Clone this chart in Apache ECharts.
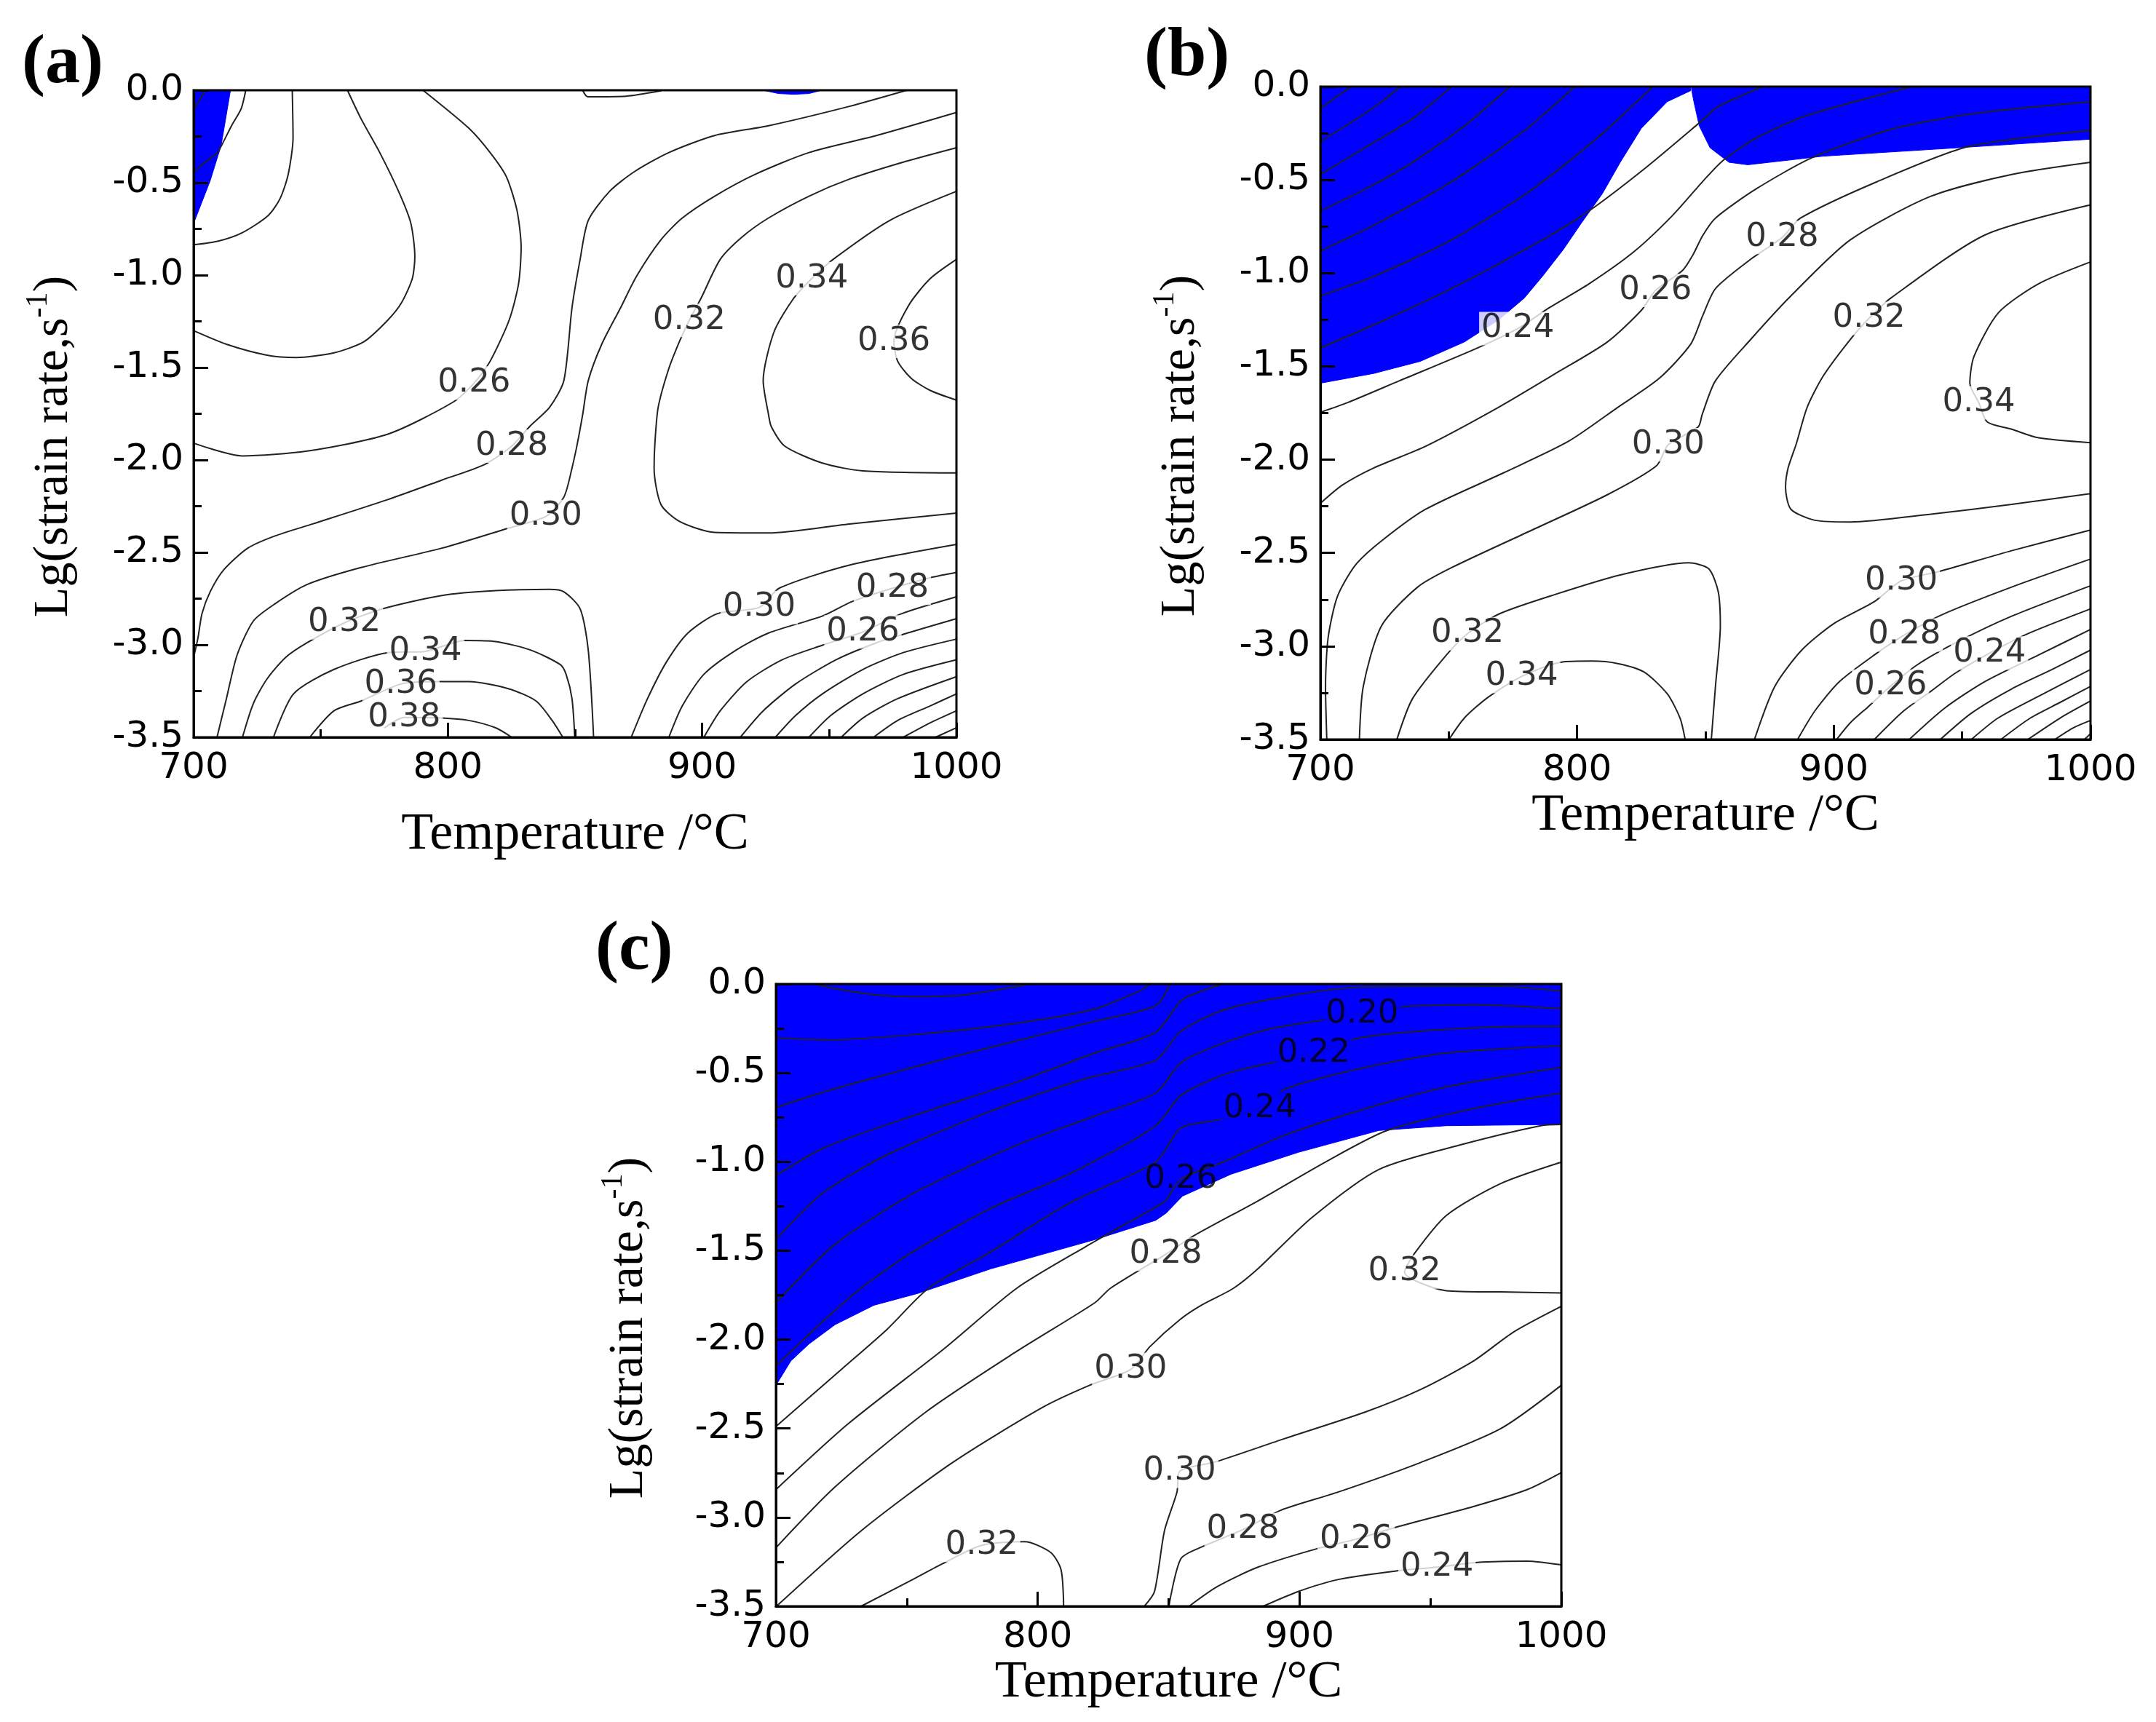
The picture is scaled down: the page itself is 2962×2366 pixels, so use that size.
<!DOCTYPE html>
<html>
<head>
<meta charset="utf-8">
<script src="https://cdn.jsdelivr.net/npm/echarts/dist/echarts.min.js"></script>
<style>
html,body{margin:0;padding:0;background:#fff}
#chart{width:2962px;height:2366px}
</style>
</head>
<body>
<div id="chart"></div>
<script>
// axis ranges / ticks
var tempRange = [700, 1000];
var rateRange = [-3.5, 0];
var tempInterval = 100;
var rateInterval = 0.5;

// ---------- panel (a) : contour lines [T, lg(rate)] ----------
var aLine01 = [[704.6,0],[702.5,-0.05],[700.2,-0.1]];
var aLine02 = [[720.5,0],[718.7,-0.10],[715,-0.19],[711.3,-0.29],[709.2,-0.34],[704.5,-0.39],[700.2,-0.44]];
var aLine03 = [[738.8,0],[739.1,-0.258],[737.2,-0.455],[734,-0.586],[729.3,-0.678],[719.2,-0.77],[709.7,-0.816],[700.2,-0.836]];
var aLine04 = [[760.5,0],[765.8,-0.153],[773.2,-0.337],[780.6,-0.547],[785.4,-0.718],[787,-0.901],[786,-1.019],[781.7,-1.151],[776.4,-1.243],[766.9,-1.361],[755.2,-1.42],[740.4,-1.446],[728.8,-1.433],[712.9,-1.374],[700.2,-1.302]];
var aLine26 = [[790.2,0],[808.2,-0.205],[816.6,-0.337],[823,-0.468],[827.2,-0.652],[828.8,-0.849],[827.8,-1.046],[824.1,-1.243],[816.6,-1.466],[810.3,-1.584],[801.8,-1.689],[776.4,-1.86],[744.6,-1.952],[719.2,-1.978],[700.2,-1.91]];
var aLine28 = [[980.5,0],[957.9,-0.087],[926.1,-0.192],[904.9,-0.245],[886.9,-0.337],[873.2,-0.442],[863.6,-0.547],[855.2,-0.704],[852,-0.915],[848.8,-1.177],[845.6,-1.571],[840,-1.715],[832.5,-1.814],[825.1,-1.925],[814.5,-2.024],[797.6,-2.109],[776.4,-2.214],[746.8,-2.346],[732,-2.411],[721.3,-2.477],[711.8,-2.595],[706.5,-2.713],[703.3,-2.831],[701.7,-2.963],[700.3,-3.05]];
var aLine30 = [[1000,-0.12],[968.5,-0.245],[942,-0.337],[920.8,-0.455],[904.9,-0.573],[892.2,-0.691],[883.8,-0.809],[874.2,-1.006],[867.9,-1.177],[860.5,-1.374],[855.2,-1.571],[853,-1.755],[850.9,-1.912],[848.8,-2.044],[845.6,-2.201],[838.5,-2.306],[823,-2.372],[797.6,-2.477],[765.8,-2.582],[744.6,-2.674],[731.9,-2.779],[723.5,-2.871],[717.1,-3.055],[712.9,-3.291],[709.2,-3.5]];
var aLine32 = [[1000,-0.311],[979.1,-0.389],[957.9,-0.481],[942,-0.573],[926.1,-0.691],[915.5,-0.796],[907.1,-0.915],[899.6,-1.124],[894.9,-1.245],[891.2,-1.355],[886.9,-1.505],[882.7,-1.715],[881.4,-1.912],[881.1,-2.044],[883.8,-2.241],[891.2,-2.333],[904.9,-2.392],[926.1,-2.395],[957.9,-2.346],[1000,-2.287]];
var aLine34 = [[1000,-0.547],[973.8,-0.704],[951.5,-0.915],[943.1,-1.019],[935.7,-1.131],[928.2,-1.309],[924,-1.571],[926.1,-1.755],[927.2,-1.82],[932.5,-1.925],[947.3,-2.017],[963.2,-2.059],[1000,-2.07]];
var aLine36 = [[1000,-0.915],[989.7,-1.019],[981.2,-1.164],[975.4,-1.358],[976.9,-1.466],[982.2,-1.558],[989.7,-1.624],[1000,-1.676]];
var aLow32 = [[719.2,-3.5],[723.5,-3.317],[728.8,-3.186],[736.2,-3.068],[744.6,-2.989],[759.3,-2.881],[774.3,-2.805],[797.6,-2.733],[818.8,-2.707],[839.9,-2.7],[845.6,-2.713],[852,-2.805],[855.2,-3.028],[857.3,-3.5]];
var aLow34 = [[731.4,-3.5],[739.3,-3.265],[755.2,-3.133],[776.4,-3.042],[791.2,-3.035],[806.6,-2.976],[818.8,-2.982],[832.5,-3.028],[844.2,-3.107],[846.5,-3.16],[848.8,-3.291],[849.9,-3.5]];
var aLow36 = [[745.7,-3.5],[755.2,-3.357],[765.8,-3.304],[781.5,-3.212],[796.5,-3.199],[808.2,-3.199],[824,-3.238],[834.7,-3.304],[841,-3.409],[845.2,-3.5]];
var aLow38 = [[775,-3.45],[782.8,-3.393],[797.6,-3.396],[808.2,-3.409],[818.8,-3.449],[825.1,-3.5]];
var aRight30 = [[872.1,-3.5],[878.5,-3.291],[885.9,-3.094],[894.4,-2.936],[906,-2.831],[922.4,-2.798],[930.4,-2.693],[957.9,-2.569],[1000,-2.457]];
var aRight28 = [[886.9,-3.5],[892.2,-3.33],[900.7,-3.159],[913.4,-3.028],[926.1,-2.936],[947.3,-2.844],[958.9,-2.766],[974.8,-2.694],[990.2,-2.635],[1000,-2.608]];
var aRight26 = [[900.7,-3.5],[907.1,-3.357],[917.6,-3.199],[931.4,-3.081],[947.3,-3.002],[963.2,-2.93],[978.5,-2.831],[1000,-2.74]];
var aRight24 = [[915,-3.5],[924,-3.357],[936.7,-3.212],[952.6,-3.081],[968.5,-2.989],[979.1,-2.943],[1000,-2.858]];
var aRight22 = [[928.8,-3.5],[936.7,-3.383],[947.3,-3.265],[963.2,-3.133],[979.1,-3.042],[1000,-2.969]];
var aRight20 = [[942,-3.5],[950.5,-3.383],[963.2,-3.265],[979.1,-3.16],[1000,-3.081]];
var aRight18 = [[954.7,-3.5],[963.2,-3.396],[976.9,-3.291],[1000,-3.172]];
var aRight16 = [[967.4,-3.5],[976.9,-3.409],[989.7,-3.33],[1000,-3.265]];
var aRight14 = [[979.1,-3.5],[989.7,-3.422],[1000,-3.357]];
var aRight12 = [[991.8,-3.5],[1000,-3.448]];
var aTop = [[853,0],[855,-0.035],[870,-0.032],[884,-0.002]];
var aBlue = [[700,0],[714.5,0],[712.9,-0.13],[710.8,-0.30],[706.5,-0.49],[700,-0.72]];
var aSpot = [[924,0],[930,-0.018],[936,-0.022],[942,-0.018],[947,0]];
var aLabels = [[810.3,-1.584,'0.26'],[825.1,-1.925,'0.28'],[838.5,-2.306,'0.30'],[894.9,-1.245,'0.32'],[943.1,-1.019,'0.34'],[975.4,-1.358,'0.36'],[759.3,-2.881,'0.32'],[791.2,-3.035,'0.34'],[781.5,-3.212,'0.36'],[782.8,-3.393,'0.38'],[922.4,-2.798,'0.30'],[974.8,-2.694,'0.28'],[963.2,-2.93,'0.26']];

// ---------- panel (b) ----------
var bLine10 = [[712.1,0],[705.5,-0.061],[700,-0.12]];
var bLine12 = [[731.3,0],[723.8,-0.081],[715.7,-0.159],[700,-0.295]];
var bLine14 = [[751.1,0],[735.9,-0.172],[715.7,-0.341],[700,-0.471]];
var bLine16 = [[773.8,0],[756.1,-0.211],[732.9,-0.432],[715.7,-0.562],[700,-0.666]];
var bLine18 = [[799.1,0],[779.4,-0.237],[751.1,-0.51],[720.7,-0.744],[700,-0.881]];
var bLine20 = [[829.5,0],[806.7,-0.289],[781.4,-0.562],[751.1,-0.822],[720.7,-1.018],[700,-1.122]];
var bLine22 = [[700,-1.401],[720.7,-1.278],[751.1,-1.082],[786.5,-0.822],[804.7,-0.666],[827,-0.432],[849,-0.178],[855,-0.107],[872.3,0]];
var bLine24 = [[700,-1.746],[710.6,-1.694],[730.8,-1.577],[761.2,-1.401],[776.9,-1.297],[789,-1.187],[804.7,-1.057],[821.9,-0.888],[837.1,-0.692],[849.7,-0.497],[857.1,-0.393],[869.7,-0.276],[887.5,-0.165],[906.4,-0.087],[930.5,0]];
var bLine26 = [[700,-2.234],[708.6,-2.136],[720.7,-2.045],[741,-1.928],[769.3,-1.72],[791.6,-1.538],[811.8,-1.369],[825,-1.2],[830.5,-1.093],[841.1,-0.985],[845.2,-0.9],[849,-0.797],[853.9,-0.705],[869.7,-0.549],[891.7,-0.38],[922.1,-0.23],[953.6,-0.146],[1000,-0.081]];
var bLine28 = [[702.5,-3.5],[702,-3.216],[703,-2.956],[706.6,-2.735],[713.6,-2.566],[723.8,-2.436],[741,-2.266],[771.3,-2.071],[796.6,-1.902],[815.8,-1.72],[832,-1.564],[844.2,-1.382],[849,-1.226],[853.9,-1.083],[867.6,-0.926],[879.9,-0.809],[887,-0.705],[916.8,-0.51],[952.5,-0.321],[1000,-0.234]];
var bLine30 = [[715.2,-3.5],[716.7,-3.216],[723.8,-2.891],[737.9,-2.683],[751.1,-2.579],[781.4,-2.384],[811.8,-2.188],[831,-2.032],[835.5,-1.92],[847.2,-1.824],[848.7,-1.759],[853.9,-1.577],[867.6,-1.356],[883.3,-1.122],[906.4,-0.822],[937.8,-0.588],[969.3,-0.471],[1000,-0.406]];
var bLine32 = [[1000,-0.634],[958.8,-0.796],[922.1,-1.135],[913.7,-1.243],[906.4,-1.356],[895.9,-1.551],[889.6,-1.72],[885.4,-1.915],[882.2,-2.045],[881.2,-2.149],[883.3,-2.266],[892.7,-2.325],[906.4,-2.334],[937.8,-2.292],[969.3,-2.24],[1000,-2.182]];
var bLine34 = [[1000,-0.94],[979.8,-1.057],[964.1,-1.213],[954.6,-1.447],[953,-1.59],[956.5,-1.695],[959.8,-1.798],[969.3,-1.837],[979.8,-1.883],[1000,-1.909]];
var bLow32 = [[729.8,-3.5],[735.9,-3.281],[749.1,-3.047],[757.3,-2.933],[769.8,-2.826],[791.6,-2.722],[816.8,-2.618],[843.4,-2.553],[851.3,-2.585],[855,-2.709],[855.8,-2.891],[853.9,-3.216],[852.3,-3.5]];
var bLow34 = [[750.1,-3.5],[756.1,-3.385],[765.2,-3.275],[778.4,-3.162],[793.6,-3.086],[805.7,-3.08],[815.8,-3.093],[826,-3.138],[835.1,-3.255],[840.1,-3.385],[842.1,-3.5]];
var bRight30 = [[869.1,-3.5],[877,-3.216],[887.5,-3.021],[900.1,-2.878],[915.8,-2.761],[926.3,-2.65],[941.5,-2.598],[969.3,-2.488],[1000,-2.377]];
var bRight28 = [[885.9,-3.5],[892.7,-3.346],[902.2,-3.19],[915.8,-3.047],[927.5,-2.94],[942,-2.832],[969.3,-2.683],[1000,-2.533]];
var bRight26 = [[901.1,-3.5],[906.4,-3.411],[913.2,-3.327],[922.1,-3.214],[932.6,-3.099],[948.3,-2.976],[969.3,-2.839],[1000,-2.676]];
var bRight24 = [[915.8,-3.5],[927.3,-3.346],[937.8,-3.242],[947.3,-3.145],[960.7,-3.037],[976.1,-2.93],[1000,-2.8]];
var bRight22 = [[929.4,-3.5],[943.1,-3.333],[958.8,-3.19],[979.8,-3.047],[1000,-2.91]];
var bRight20 = [[941.5,-3.5],[953.6,-3.359],[969.3,-3.229],[985,-3.125],[1000,-3.021]];
var bRight18 = [[953.6,-3.5],[964,-3.385],[979.8,-3.268],[1000,-3.125]];
var bRight16 = [[965.1,-3.5],[976.6,-3.385],[988.2,-3.301],[1000,-3.216]];
var bRight14 = [[975.6,-3.5],[988.2,-3.385],[1000,-3.294]];
var bRight12 = [[986.1,-3.5],[993.4,-3.437],[1000,-3.398]];
var bRight10 = [[997.6,-3.5],[1000,-3.47]];
var bBlueLeft = [[700,0],[844.3,0],[844.2,-0.022],[835.1,-0.081],[825,-0.224],[816.8,-0.406],[809.8,-0.575],[801.7,-0.731],[794.6,-0.874],[786.5,-1.017],[779.4,-1.134],[769.3,-1.252],[756.1,-1.369],[738.9,-1.473],[720.7,-1.538],[700,-1.59]];
var bBlueRight = [[844.6,0],[1000,0],[1000,-0.282],[948.3,-0.328],[895.9,-0.373],[874.9,-0.406],[866.5,-0.419],[859.2,-0.406],[851.8,-0.328],[847.6,-0.211],[845.5,-0.081],[844.6,-0.016]];
var bLabels = [[776.9,-1.297,'0.24'],[830.5,-1.093,'0.26'],[879.9,-0.809,'0.28'],[913.7,-1.243,'0.32'],[956.5,-1.695,'0.34'],[835.5,-1.92,'0.30'],[757.3,-2.933,'0.32'],[778.4,-3.162,'0.34'],[926.3,-2.65,'0.30'],[927.5,-2.94,'0.28'],[922.1,-3.214,'0.26'],[960.7,-3.037,'0.24']];

// ---------- panel (c) ----------
var cLine10 = [[714.6,0],[722.5,-0.026],[737.4,-0.06],[752.3,-0.071],[772.2,-0.06],[797,0]];
var cLine12 = [[700,-0.303],[719.6,-0.314],[752.3,-0.285],[792,-0.22],[821.8,-0.14],[839.7,-0.033],[842.7,0]];
var cLine14 = [[700,-0.695],[718.6,-0.606],[752.3,-0.469],[792,-0.319],[821.8,-0.21],[845.1,-0.121],[850.6,0]];
var cLine16 = [[700,-1.077],[718.6,-0.92],[752.3,-0.742],[792,-0.551],[821.8,-0.388],[845.1,-0.272],[855.3,-0.087],[870.7,0]];
var cLine18 = [[700,-1.438],[717.6,-1.179],[742.4,-0.961],[782.1,-0.715],[816.8,-0.538],[845.1,-0.428],[854.7,-0.265],[871.7,-0.142],[904.6,-0.046],[925.2,-0.016],[976.6,-0.012],[1000,-0.04]];
var cLine20 = [[700,-1.793],[722.5,-1.465],[752.3,-1.179],[792,-0.906],[821.8,-0.742],[845.1,-0.613],[854.7,-0.442],[870.7,-0.333],[889.2,-0.251],[923.9,-0.169],[939.6,-0.128],[966.4,-0.117],[1000,-0.138]];
var cLine22 = [[700,-2.148],[718.6,-1.888],[732.5,-1.711],[752.3,-1.506],[782.1,-1.261],[811.9,-1.07],[845.1,-0.797],[854.7,-0.626],[873.8,-0.497],[905.4,-0.392],[922.1,-0.306],[945.8,-0.265],[976.6,-0.24],[1000,-0.237]];
var cLine24 = [[700,-2.489],[725.5,-2.161],[742.4,-1.943],[758.3,-1.711],[782.1,-1.506],[811.9,-1.234],[845.1,-1.001],[854.7,-0.81],[869.7,-0.763],[884.8,-0.701],[894.3,-0.592],[925.2,-0.469],[956.1,-0.388],[1000,-0.347]];
var cLine26 = [[700,-2.844],[727.5,-2.475],[764.2,-2.052],[792,-1.711],[818,-1.48],[845.1,-1.254],[849.1,-1.213],[854.7,-1.097],[870.7,-1.002],[894.3,-0.851],[925.2,-0.701],[956.1,-0.579],[1000,-0.469]];
var cLine28 = [[700,-3.171],[722.5,-2.83],[757.3,-2.407],[792,-2.066],[821.8,-1.793],[827.8,-1.711],[848.9,-1.52],[859.4,-1.418],[884.1,-1.22],[909.8,-1.002],[933.4,-0.824],[966.4,-0.701],[1000,-0.613]];
var cLine30 = [[700.2,-3.5],[732.5,-3.076],[767.2,-2.694],[802,-2.38],[819.8,-2.257],[835.5,-2.168],[842.9,-2.039],[854.2,-1.889],[862.5,-1.807],[874.8,-1.711],[884.1,-1.602],[904.6,-1.315],[930.3,-1.043],[961.2,-0.906],[992.1,-0.797],[1000,-0.79]];
var cLine32 = [[1000,-1.002],[976.6,-1.124],[956.1,-1.302],[943.7,-1.52],[940.1,-1.62],[956.1,-1.725],[976.6,-1.732],[1000,-1.738]];
var cLow30 = [[840.7,-3.5],[844.6,-3.417],[848.4,-3.076],[853.2,-2.857],[854.2,-2.741],[868.1,-2.687],[894.3,-2.557],[925.2,-2.407],[945.8,-2.284],[966.4,-2.121],[981.8,-1.957],[1000,-1.813]];
var cLow28 = [[850.1,-3.5],[854.7,-3.232],[863,-3.164],[878.4,-3.069],[892.8,-2.96],[914.9,-2.857],[945.8,-2.694],[976.6,-2.503],[1000,-2.257]];
var cLow26 = [[857.8,-3.5],[868.6,-3.389],[884.1,-3.28],[906.2,-3.178],[921.6,-3.123],[937,-3.055],[966.4,-2.939],[986.9,-2.844],[1000,-2.748]];
var cLow24 = [[886.1,-3.5],[899.5,-3.417],[914.9,-3.349],[937,-3.301],[952.5,-3.28],[967.9,-3.253],[986.9,-3.246],[1000,-3.267]];
var cLow32 = [[732.5,-3.5],[752.3,-3.349],[763.7,-3.26],[778.6,-3.157],[795,-3.137],[805,-3.198],[808.9,-3.294],[809.9,-3.5]];
var cBlue = [[700,0],[1000,0],[1000,-0.79],[956.1,-0.797],[930.3,-0.824],[899.5,-0.947],[873.8,-1.07],[855.3,-1.193],[849.1,-1.288],[845.1,-1.329],[821.8,-1.438],[782.1,-1.602],[754.3,-1.74],[737.4,-1.807],[722.6,-1.916],[712.6,-2.025],[705.7,-2.12],[700,-2.257]];
var cLabels = [[848.9,-1.52,'0.28'],[940.1,-1.62,'0.32'],[835.5,-2.168,'0.30'],[778.6,-3.157,'0.32'],[854.2,-2.741,'0.30'],[878.4,-3.069,'0.28'],[921.6,-3.123,'0.26'],[952.5,-3.28,'0.24']];
var cLabelsBlue = [[923.9,-0.169,'0.20'],[905.4,-0.392,'0.22'],[884.8,-0.701,'0.24']];
var cLabelsEdge = [[854.7,-1.097,'0.26']];

var panels = [
    {grid:{left:266, top:124, width:1048, height:889}, nameGapX:98, nameGapY:150,
     lines:[aLine01,aLine02,aLine03,aLine04,aLine26,aLine28,aLine30,aLine32,aLine34,aLine36,aLow32,aLow34,aLow36,aLow38,aRight30,aRight28,aRight26,aRight24,aRight22,aRight20,aRight18,aRight16,aRight14,aRight12,aTop],
     blues:[aBlue,aSpot], labels:aLabels, labelsBlue:[], labelsEdge:[]},
    {grid:{left:1814, top:119, width:1058, height:897}, nameGapX:68, nameGapY:150,
     lines:[bLine10,bLine12,bLine14,bLine16,bLine18,bLine20,bLine22,bLine24,bLine26,bLine28,bLine30,bLine32,bLine34,bLow32,bLow34,bRight30,bRight28,bRight26,bRight24,bRight22,bRight20,bRight18,bRight16,bRight14,bRight12,bRight10],
     blues:[bBlueLeft,bBlueRight], labels:bLabels, labelsBlue:[], labelsEdge:[]},
    {grid:{left:1066, top:1352, width:1079, height:855}, nameGapX:68, nameGapY:160,
     lines:[cLine10,cLine12,cLine14,cLine16,cLine18,cLine20,cLine22,cLine24,cLine26,cLine28,cLine30,cLine32,cLow30,cLow28,cLow26,cLow24,cLow32],
     blues:[cBlue], labels:cLabels, labelsBlue:cLabelsBlue, labelsEdge:cLabelsEdge}
];

var tickFont = 'DejaVu Sans';
var serif = 'Liberation Serif';

var option = {
    backgroundColor:'#fff',
    animation:false,
    title:[
        {text:'(a)', left:30, top:40, padding:0, textStyle:{fontFamily:serif, fontWeight:'bold', fontSize:96, color:'#000'}},
        {text:'(b)', left:1572, top:30, padding:0, textStyle:{fontFamily:serif, fontWeight:'bold', fontSize:96, color:'#000'}},
        {text:'(c)', left:818, top:1258, padding:0, textStyle:{fontFamily:serif, fontWeight:'bold', fontSize:96, color:'#000'}}
    ],
    grid:[], xAxis:[], yAxis:[], series:[]
};

function polygonSeries(idx, poly){
    return {
        type:'custom', xAxisIndex:idx, yAxisIndex:idx, data:poly, silent:true, z:1,
        renderItem:function(params, api){
            if(params.dataIndex !== 0) return null;
            var pts = poly.map(function(p){ return api.coord(p); });
            return {type:'polygon', shape:{points:pts}, style:{fill:'#0000ff', stroke:'#0000ff', lineWidth:1}};
        }
    };
}

function labelSeries(idx, list, bg){
    return {
        type:'scatter', xAxisIndex:idx, yAxisIndex:idx, symbolSize:0, silent:true, z:6,
        data:list.map(function(l){ return {value:[l[0], l[1]], name:l[2]}; }),
        label:{show:true, position:'inside', formatter:'{b}', fontFamily:tickFont, fontSize:45,
               color:'#000', backgroundColor:bg, padding:[0,3], lineHeight:46}
    };
}

panels.forEach(function(p, i){
    option.grid.push({left:p.grid.left, top:p.grid.top, width:p.grid.width, height:p.grid.height,
        show:true, borderColor:'#000', borderWidth:3, backgroundColor:'transparent', z:8,
        containLabel:false, outerBoundsMode:'none'});
    option.xAxis.push({
        type:'value', gridIndex:i, min:tempRange[0], max:tempRange[1], interval:tempInterval, z:9,
        name:'Temperature /°C', nameLocation:'middle', nameGap:p.nameGapX,
        nameTextStyle:{fontFamily:serif, fontSize:72, color:'#000'},
        axisLine:{show:true, onZero:false, lineStyle:{color:'#000', width:3}},
        axisTick:{show:true, inside:true, length:20, lineStyle:{color:'#000', width:3}},
        minorTick:{show:true, splitNumber:2, length:11, lineStyle:{color:'#000', width:3}},
        splitLine:{show:false},
        axisLabel:{fontFamily:tickFont, fontSize:50, color:'#000', margin:18,
            formatter:function(v){ return String(v); }}
    });
    option.yAxis.push({
        type:'value', gridIndex:i, min:rateRange[0], max:rateRange[1], interval:rateInterval, z:9,
        name:'Lg(strain rate,s{sup|-1})', nameLocation:'middle', nameRotate:90, nameGap:p.nameGapY,
        nameTextStyle:{fontFamily:serif, fontSize:68, color:'#000', lineHeight:84, padding:[0,90,0,0],
            rich:{sup:{fontFamily:serif, fontSize:42, color:'#000', verticalAlign:'top', lineHeight:84}}},
        axisLine:{show:true, onZero:false, lineStyle:{color:'#000', width:3}},
        axisTick:{show:true, inside:true, length:20, lineStyle:{color:'#000', width:3}},
        minorTick:{show:true, splitNumber:2, length:11, lineStyle:{color:'#000', width:3}},
        splitLine:{show:false},
        axisLabel:{fontFamily:tickFont, fontSize:50, color:'#000', margin:14,
            formatter:function(v){ return v.toFixed(1); }}
    });
    p.blues.forEach(function(poly){ option.series.push(polygonSeries(i, poly)); });
    p.lines.forEach(function(line){
        option.series.push({
            type:'line', xAxisIndex:i, yAxisIndex:i, data:line, symbol:'none', showSymbol:false,
            smooth:0.25, silent:true, z:3, clip:true,
            lineStyle:{color:'#222', width:2}
        });
    });
    if(p.labels.length) option.series.push(labelSeries(i, p.labels, '#fff'));
    if(p.labelsBlue.length) option.series.push(labelSeries(i, p.labelsBlue, '#0000ff'));
    if(p.labelsEdge.length) option.series.push(labelSeries(i, p.labelsEdge, 'transparent'));
});

var myChart = echarts.init(document.getElementById('chart'), null, {renderer:'canvas'});
myChart.setOption(option);
</script>
</body>
</html>
